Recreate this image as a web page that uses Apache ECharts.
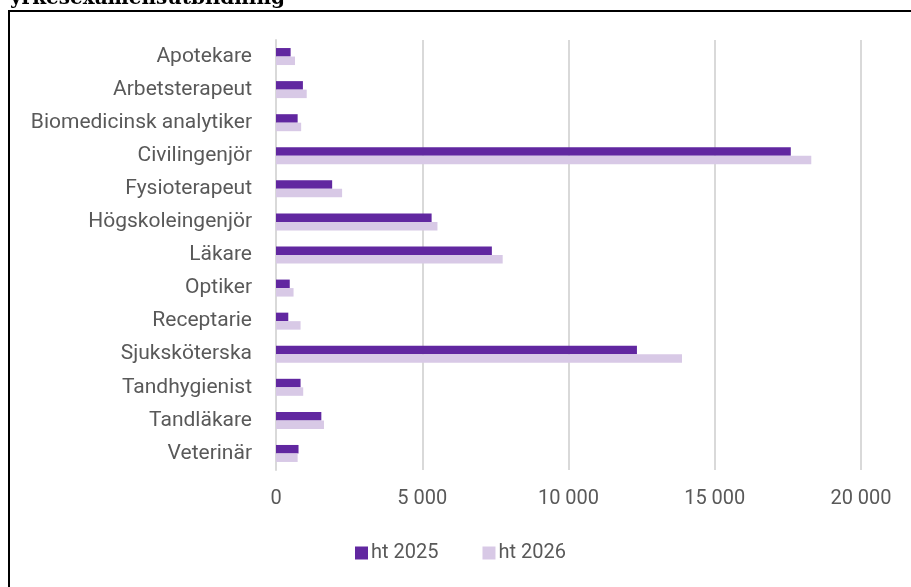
<!DOCTYPE html>
<html><head><meta charset="utf-8">
<script src="https://cdn.jsdelivr.net/npm/echarts@6/dist/echarts.min.js"></script>
<style>html,body{margin:0;padding:0;background:#fff;}#c{width:911px;height:587px;}</style>
</head><body><div id="c"></div>
<script>
const categories = ["Apotekare","Arbetsterapeut","Biomedicinsk analytiker","Civilingenjör","Fysioterapeut","Högskoleingenjör","Läkare","Optiker","Receptarie","Sjuksköterska","Tandhygienist","Tandläkare","Veterinär"];
const ht2025 = [500, 920, 740, 17600, 1920, 5320, 7380, 470, 420, 12340, 840, 1550, 770];
const ht2026 = [650, 1050, 860, 18300, 2260, 5520, 7750, 600, 840, 13880, 930, 1640, 740];
const seriesNames = ["ht 2025", "ht 2026"];
const titleText = "yrkesexamensutbildning";

const chart = echarts.init(document.getElementById('c'));
const fmt = v => String(v).replace(/\B(?=(\d{3})+(?!\d))/g, ' ');
chart.setOption({
  animation: false,
  textStyle: {fontFamily: 'Roboto'},
  graphic: [
    {type: 'rect', shape: {x: 9, y: 11, width: 920, height: 600}, style: {fill: 'none', stroke: '#000', lineWidth: 2}},
    {type: 'text', left: 10, top: -11, style: {text: titleText, font: 'bold 20px "DejaVu Serif"', fill: '#000'}}
  ],
  legend: {
    bottom: 19, left: 350, itemWidth: 13, itemHeight: 13, itemGap: 44,
    icon: 'rect',
    textStyle: {color: '#595959', fontSize: 20, padding: [0, 0, 0, -2]},
    data: seriesNames
  },
  grid: {left: 276, right: 50, top: 40, bottom: 117, containLabel: false},
  xAxis: {
    type: 'value', min: 0, max: 20000, interval: 5000,
    axisLine: {show: false}, axisTick: {show: false},
    axisLabel: {color: '#595959', fontSize: 20, margin: 19, formatter: fmt},
    splitLine: {lineStyle: {color: '#d9d9d9', width: 2}}
  },
  yAxis: {
    type: 'category', data: categories, inverse: true,
    axisLine: {lineStyle: {color: '#d9d9d9', width: 2}}, axisTick: {show: false},
    axisLabel: {color: '#595959', fontSize: 21, margin: 24}
  },
  series: [
    {name: seriesNames[0], type: 'bar', data: ht2025, barWidth: 8.5, barGap: '0%', itemStyle: {color: '#6127a0'}},
    {name: seriesNames[1], type: 'bar', data: ht2026, barWidth: 8.5, itemStyle: {color: '#d8c9e6'}}
  ]
});
</script></body></html>
